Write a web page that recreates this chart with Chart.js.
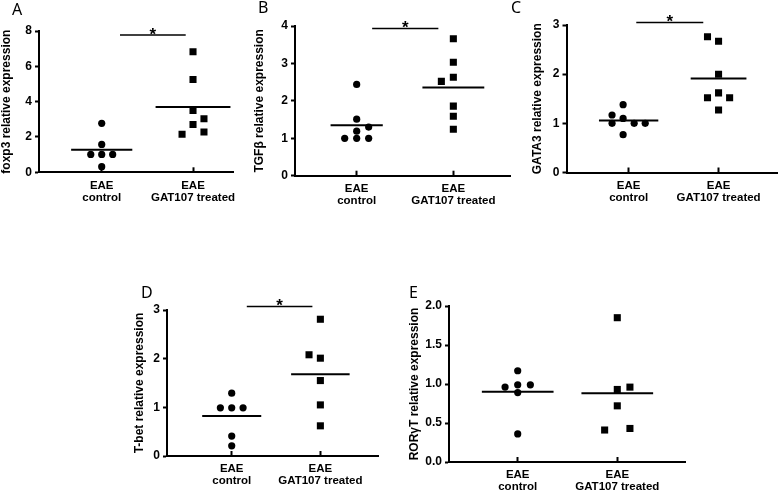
<!DOCTYPE html>
<html>
<head>
<meta charset="utf-8">
<script src="https://cdn.jsdelivr.net/npm/chart.js@4"></script>
<style>
  html, body { margin: 0; padding: 0; background: #fff; overflow: hidden; }
  #fig { position: relative; width: 778px; height: 490px; }
  #fig canvas { position: absolute; }
  .letter { position: absolute; font: 16px "Noto Sans", sans-serif; line-height: 1; color: #000; }
</style>
</head>
<body>
<div id="fig"></div>
<script>
// groups on the x axis
const groups = [['EAE', 'control'], ['EAE', 'GAT107 treated']];

// A - foxp3
const foxp3Ctrl = [2.77, 1.58, 1.01, 1.01, 1.01, 0.32];
const foxp3CtrlCol = [0, 0, -1, 0, 1, 0];
const foxp3Trt = [6.83, 5.25, 3.50, 3.03, 2.71, 2.28, 2.15];
const foxp3TrtCol = [0, 0, 0, 1, 0, 1, -1];
const foxp3Mean = [1.28, 3.70];
const foxp3Ticks = [0, 2, 4, 6, 8];
const foxp3Sig = [1.2, 1.92, 7.77];

// B - TGFb
const tgfbCtrl = [2.44, 1.51, 1.30, 1.19, 1.0, 1.0, 1.0];
const tgfbCtrlCol = [0, 0, 1, 0, -1, 0, 1];
const tgfbTrt = [3.66, 3.03, 2.63, 2.52, 1.86, 1.59, 1.24];
const tgfbTrtCol = [0, 0, 0, -1, 0, 0, 0];
const tgfbMean = [1.35, 2.36];
const tgfbTicks = [0, 1, 2, 3, 4];
const tgfbSig = [1.16, 1.845, 3.93];

// C - GATA3
const gata3Ctrl = [1.38, 1.17, 1.10, 1.0, 1.0, 1.0, 0.77];
const gata3CtrlCol = [-0.5, -1.5, -0.5, -1.5, 0.5, 1.5, -0.5];
const gata3Trt = [2.76, 2.67, 2.0, 1.62, 1.52, 1.52, 1.27];
const gata3TrtCol = [-1, 0, 0, 0, -1, 1, 0];
const gata3Mean = [1.06, 1.91];
const gata3Ticks = [0, 1, 2, 3];
const gata3Sig = [1.085, 1.83, 3.05];

// D - T-bet
const tbetCtrl = [1.29, 0.99, 0.99, 0.99, 0.41, 0.21];
const tbetCtrlCol = [0, -1, 0, 1, 0, 0];
const tbetTrt = [2.81, 2.08, 2.01, 1.55, 1.05, 0.62];
const tbetTrtCol = [0, -1, 0, 0, 0, 0];
const tbetMean = [0.82, 1.68];
const tbetTicks = [0, 1, 2, 3];
const tbetSig = [1.17, 1.91, 3.07];

// E - RORgT
const rorgtCtrl = [1.17, 0.96, 0.99, 0.99, 0.89, 0.36];
const rorgtCtrlCol = [0, -1, 0, 1, 0, 0];
const rorgtTrt = [1.85, 0.93, 0.96, 0.72, 0.41, 0.43];
const rorgtTrtCol = [0, 0, 1, 0, -1, 1];
const rorgtMean = [0.90, 0.88];
const rorgtTicks = [0, 0.5, 1.0, 1.5, 2.0];

const panels = [
  { letter: 'A', lx: 12, ly: 1, title: 'foxp3 relative expression', ctrl: foxp3Ctrl, ctrlCol: foxp3CtrlCol, trt: foxp3Trt, trtCol: foxp3TrtCol,
    mean: foxp3Mean, ticks: foxp3Ticks, sig: foxp3Sig, half: [0.335, 0.41], step: 0.12, xr: [0.313, 2.438], l: 39, r: 233, t: 31, b: 172.3, tx: 7, dec: 0 },
  { letter: 'B', lx: 258, ly: -1, title: 'TGFβ relative expression', ctrl: tgfbCtrl, ctrlCol: tgfbCtrlCol, trt: tgfbTrt, trtCol: tgfbTrtCol,
    mean: tgfbMean, ticks: tgfbTicks, sig: tgfbSig, half: [0.27, 0.32], step: 0.124, xr: [0.362, 2.586], l: 295, r: 510, t: 26, b: 175.7, tx: 260, dec: 0 },
  { letter: 'C', lx: 511, ly: -1, title: 'GATA3 relative expression', ctrl: gata3Ctrl, ctrlCol: gata3CtrlCol, trt: gata3Trt, trtCol: gata3TrtCol,
    mean: gata3Mean, ticks: gata3Ticks, sig: gata3Sig, half: [0.33, 0.31], step: 0.123, xr: [0.309, 2.661], l: 566.5, r: 778, t: 25, b: 172.5, tx: 538, dec: 0 },
  { letter: 'D', lx: 141, ly: 284, title: 'T-bet relative expression', ctrl: tbetCtrl, ctrlCol: tbetCtrlCol, trt: tbetTrt, trtCol: tbetTrtCol,
    mean: tbetMean, ticks: tbetTicks, sig: tbetSig, half: [0.333, 0.33], step: 0.128, xr: [0.27, 2.65], l: 167, r: 378, t: 310, b: 456, tx: 140, dec: 0 },
  { letter: 'E', lx: 409, ly: 284, title: 'RORγT relative expression', ctrl: rorgtCtrl, ctrlCol: rorgtCtrlCol, trt: rorgtTrt, trtCol: rorgtTrtCol,
    mean: rorgtMean, ticks: rorgtTicks, sig: null, half: [0.36, 0.36], step: 0.127, xr: [0.31, 2.68], l: 449, r: 685, t: 306, b: 462, tx: 415, dec: 1 }
];

const FONT = '"Liberation Sans", Arial, sans-serif';
const TITLE_SIZE = 12;

// draws the asterisk above the significance bar
const starPlugin = {
  id: 'star',
  afterDatasetsDraw(chart, args, opts) {
    if (!opts.bar) return;
    const { ctx, scales: { x, y } } = chart;
    const [x1, x2, yv] = opts.bar;
    ctx.save();
    ctx.font = 'bold 17px ' + FONT;
    ctx.textAlign = 'center';
    ctx.textBaseline = 'alphabetic';
    ctx.fillStyle = '#000';
    ctx.fillText('*', x.getPixelForValue((x1 + x2) / 2), y.getPixelForValue(yv) + 4.5);
    ctx.restore();
  }
};

function dots(vals, cols, g, step) {
  return vals.map((v, i) => ({ x: g + cols[i] * step, y: v }));
}

const fig = document.getElementById('fig');

panels.forEach(p => {
  const scaleLeft = p.tx - TITLE_SIZE * 1.2 / 2;
  const cl = Math.floor(scaleLeft);
  const ct = Math.floor(p.t - 30);
  const cw = Math.ceil(p.r + 25 - cl);
  const ch = Math.ceil(p.b + 45 - ct);
  const yW = p.l - scaleLeft;
  const xH = ch - (p.b - ct);

  const cv = document.createElement('canvas');
  cv.width = cw; cv.height = ch;
  cv.style.left = cl + 'px'; cv.style.top = ct + 'px';
  cv.style.width = cw + 'px'; cv.style.height = ch + 'px';
  fig.appendChild(cv);

  const lab = document.createElement('div');
  lab.className = 'letter';
  lab.textContent = p.letter;
  lab.style.left = p.lx + 'px'; lab.style.top = p.ly + 'px';
  fig.appendChild(lab);

  const datasets = [
    { type: 'scatter', data: dots(p.ctrl, p.ctrlCol, 1, p.step), pointStyle: 'circle', pointRadius: 3.6,
      backgroundColor: '#000', borderWidth: 0 },
    { type: 'scatter', data: dots(p.trt, p.trtCol, 2, p.step), pointStyle: 'rect', pointRadius: 5,
      backgroundColor: '#000', borderWidth: 0 },
    { type: 'line', data: [{ x: 1 - p.half[0], y: p.mean[0] }, { x: 1 + p.half[0], y: p.mean[0] }],
      borderColor: '#000', borderWidth: 2, pointRadius: 0 },
    { type: 'line', data: [{ x: 2 - p.half[1], y: p.mean[1] }, { x: 2 + p.half[1], y: p.mean[1] }],
      borderColor: '#000', borderWidth: 2, pointRadius: 0 }
  ];
  if (p.sig) {
    datasets.push({ type: 'line', data: [{ x: p.sig[0], y: p.sig[2] }, { x: p.sig[1], y: p.sig[2] }],
      borderColor: '#000', borderWidth: 1.5, pointRadius: 0, clip: false });
  }

  new Chart(cv, {
    type: 'scatter',
    data: { datasets },
    plugins: [starPlugin],
    options: {
      responsive: false,
      animation: false,
      events: [],
      layout: { padding: { left: scaleLeft - cl, top: p.t - ct, right: cw - (p.r - cl), bottom: 0 } },
      plugins: { legend: { display: false }, tooltip: { enabled: false }, star: { bar: p.sig } },
      scales: {
        x: {
          type: 'linear', min: p.xr[0], max: p.xr[1],
          afterBuildTicks: s => { s.ticks = [{ value: 1 }, { value: 2 }]; },
          afterFit: s => { s.height = xH; },
          grid: { drawOnChartArea: false, drawTicks: true, tickLength: -5, tickWidth: 2, tickColor: '#000' },
          border: { color: '#000', width: 2 },
          ticks: { color: '#000', padding: 12, maxRotation: 0, autoSkip: false,
            font: { family: FONT, size: 11.5, weight: 'bold', lineHeight: 1.05 },
            callback: (v, i) => groups[i] }
        },
        y: {
          min: p.ticks[0], max: p.ticks[p.ticks.length - 1],
          afterBuildTicks: s => { s.ticks = p.ticks.map(v => ({ value: v })); },
          afterFit: s => { s.width = yW; },
          grid: { drawOnChartArea: false, drawTicks: true, tickLength: 4, tickWidth: 2, tickColor: '#000' },
          border: { color: '#000', width: 2 },
          ticks: { color: '#000', padding: 3, font: { family: FONT, size: 12, weight: 'bold' },
            callback: v => v.toFixed(p.dec) },
          title: { display: true, text: p.title, color: '#000', padding: 0,
            font: { family: FONT, size: TITLE_SIZE, weight: 'bold', lineHeight: 1.2 } }
        }
      }
    }
  });
});
</script>
</body>
</html>
